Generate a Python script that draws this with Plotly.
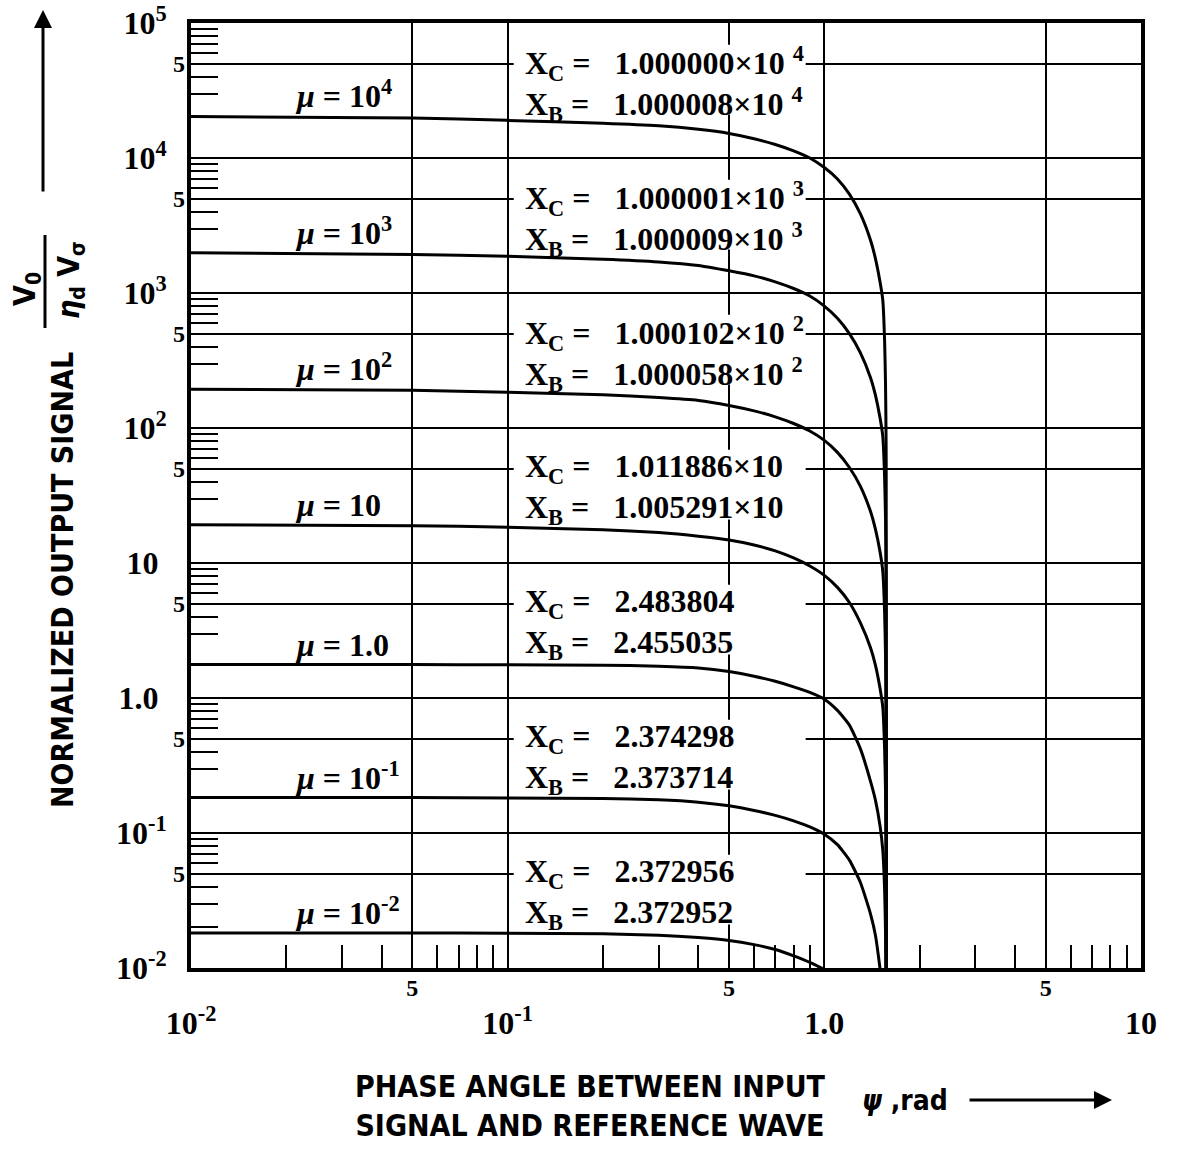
import math
import plotly.graph_objects as go

# ---------------- data ----------------
PSI = [0.01, 0.05, 0.1, 0.2, 0.3, 0.4, 0.5, 0.6, 0.7, 0.8, 0.9, 1.0, 1.1, 1.2,
       1.3, 1.4, 1.45, 1.5, 1.53, 1.55, 1.56, 1.565, 1.568, 1.5705]

V_MU_1E4 = [20300, 19800, 19000, 18100, 17300, 16300, 15200, 13900, 12600, 11300,
            10000, 8500, 7000, 5400, 3850, 2450, 1800, 1200, 880, 440, 220, 110, 55, 0.001]
V_MU_1E3 = [1990, 1930, 1870, 1780, 1700, 1600, 1460, 1340, 1210, 1080,
            950, 800, 650, 500, 360, 235, 175, 118, 86, 43, 22, 11, 5.4, 0.0005]
V_MU_1E2 = [194, 190, 184, 176, 168, 160, 147, 134, 121, 108,
            95, 81, 66, 51, 37, 24, 17.8, 12, 8.6, 4.3, 2.15, 1.08, 0.53, 0.00005]
V_MU_1E1 = [19.2, 18.9, 18.4, 17.6, 16.8, 15.8, 14.8, 13.6, 12.3, 10.9,
            9.5, 8.1, 6.6, 5.1, 3.6, 2.35, 1.75, 1.17, 0.85, 0.42, 0.21, 0.105, 0.052, 0.000005]
V_MU_1E0 = [1.77, 1.77, 1.76, 1.75, 1.72, 1.67, 1.57, 1.45, 1.33, 1.21,
            1.10, 0.98, 0.81, 0.63, 0.42, 0.24, 0.175, 0.112, 0.074, 0.038, 0.019, 0.0095, 0.0048, 0.000001]
V_MU_1EM1 = [0.183, 0.183, 0.182, 0.180, 0.176, 0.169, 0.159, 0.147, 0.135, 0.123,
             0.111, 0.098, 0.082, 0.063, 0.043, 0.025, 0.0175, 0.0098, 0.0065, 0.0033, 0.0017, 0.0008, 0.0004, 0.0000001]
V_MU_1EM2 = [0.0182, 0.0182, 0.0181, 0.0179, 0.0175, 0.0168, 0.0160, 0.0149, 0.0137, 0.0123,
             0.0110, 0.0097, 0.0081, 0.0063, 0.0043, 0.0025, 0.0018, 0.0011, 0.0007, 0.0004, 0.0002, 0.0001, 0.00005, 0.00000001]

CURVES = [V_MU_1E4, V_MU_1E3, V_MU_1E2, V_MU_1E1, V_MU_1E0, V_MU_1EM1, V_MU_1EM2]
MU_VALUES = [1e4, 1e3, 1e2, 1e1, 1.0, 1e-1, 1e-2]
MU_LABELS = ["10<sup>4</sup>", "10<sup>3</sup>", "10<sup>2</sup>", "10", "1.0",
             "10<sup>-1</sup>", "10<sup>-2</sup>"]
XC_TEXT = ["1.000000×10 <sup>4</sup>", "1.000001×10 <sup>3</sup>", "1.000102×10 <sup>2</sup>",
           "1.011886×10", "2.483804", "2.374298", "2.372956"]
XB_TEXT = ["1.000008×10 <sup>4</sup>", "1.000009×10 <sup>3</sup>", "1.000058×10 <sup>2</sup>",
           "1.005291×10", "2.455035", "2.373714", "2.372952"]

NB = "\u00a0"
X_DECADES = [0.01, 0.1, 1, 10]
X_DECADE_TEXT = ["<b>10<sup>-2</sup></b>", "<b>10<sup>-1</sup></b>", "<b>1.0</b>", "<b>10</b>"]
X_FIVES = [0.05, 0.5, 5]
X_FIVE_TEXT = ["<b>5</b>", "<b>5</b>", "<b>5</b>"]
X_MINOR = [0.02, 0.03, 0.04, 0.06, 0.07, 0.08, 0.09,
           0.2, 0.3, 0.4, 0.6, 0.7, 0.8, 0.9,
           2, 3, 4, 6, 7, 8, 9]
Y_DECADES = [1e-2, 1e-1, 1, 10, 1e2, 1e3, 1e4, 1e5]
Y_DECADE_TEXT = ["<b>10<sup>-2</sup></b>", "<b>10<sup>-1</sup></b>", "<b>1.0" + NB + "</b>",
                 "<b>10" + NB + "</b>", "<b>10<sup>2</sup></b>", "<b>10<sup>3</sup></b>",
                 "<b>10<sup>4</sup></b>", "<b>10<sup>5</sup></b>"]
Y_FIVES = [5e-2, 5e-1, 5, 50, 5e2, 5e3, 5e4]
Y_FIVE_TEXT = ["<b>5</b>"] * 7
Y_MINOR = [0.02, 0.03, 0.04, 0.06, 0.07, 0.08, 0.09,
           0.3, 0.4, 0.6, 0.7, 0.8, 0.9,
           3, 4, 6, 7, 8, 9,
           30, 40, 60, 70, 80, 90,
           300, 400, 600, 700, 800, 900,
           3000, 4000, 6000, 7000, 8000, 9000,
           30000, 40000, 60000, 70000, 80000, 90000]

SERIF = "Liberation Serif, DejaVu Serif, serif"
NARROW = "Liberation Sans Narrow, DejaVu Sans Condensed, Roboto Condensed, Liberation Sans, sans-serif"

fig = go.Figure()
for vals in CURVES:
    fig.add_trace(go.Scatter(x=PSI, y=vals, mode="lines",
                             line=dict(color="black", width=3, shape="spline", smoothing=0.5),
                             showlegend=False, hoverinfo="skip"))
# empty trace to instantiate overlay axes (used only for the small "5" labels)
fig.add_trace(go.Scatter(x=[], y=[], xaxis="x2", yaxis="y2", showlegend=False))

annotations = []
shapes = []
LBL_X = -1.677
TXT_X = math.log10(0.112)
BOX_X0, BOX_X1 = 0.1045, 0.873          # white label backgrounds (clear of the curves)
BOX_LO, BOX_HI = 2.1, 6.9               # box extent, as multiples of mu
for mu, lab, vals in zip(MU_VALUES, MU_LABELS, CURVES):
    annotations.append(dict(x=LBL_X, y=math.log10(vals[0]), xref="x", yref="y",
                            xanchor="left", yanchor="bottom", showarrow=False,
                            text="<b><i>μ</i> = " + lab + "</b>",
                            font=dict(family=SERIF, size=32, color="black")))
for mu, xc, xb in zip(MU_VALUES, XC_TEXT, XB_TEXT):
    yy = math.log10(5 * mu)
    shapes.append(dict(type="rect", xref="x", yref="y", layer="above",
                       x0=BOX_X0, x1=BOX_X1, y0=BOX_LO * mu, y1=BOX_HI * mu,
                       fillcolor="white", line=dict(width=0)))
    annotations.append(dict(x=TXT_X, y=yy, xref="x", yref="y", xanchor="left",
                            yanchor="middle", showarrow=False,
                            text="<b>X<sub>C</sub> =   " + xc + "</b>",
                            font=dict(family=SERIF, size=32, color="black")))
    annotations.append(dict(x=TXT_X, y=yy, xref="x", yref="y", xanchor="left",
                            yanchor="middle", yshift=-41, showarrow=False,
                            text="<b>X<sub>B</sub> =   " + xb + "</b>",
                            font=dict(family=SERIF, size=32, color="black")))

L, R, T, B = 191, 40, 23, 182
PW = 1181 - L - R
PH = 1150 - T - B
def px(xp):
    return (xp - L) / PW
def py(yp):
    return (1150 - B - yp) / PH

def paper_text(x, y, text, size, angle=0, xanchor="center"):
    return dict(x=px(x), y=py(y), xref="paper", yref="paper", textangle=angle,
                xanchor=xanchor, yanchor="middle", showarrow=False, text=text,
                font=dict(family=NARROW, size=size, color="black"))

annotations += [
    paper_text(62, 580, "<b>NORMALIZED OUTPUT SIGNAL</b>", 30, -90),
    paper_text(27, 289, "<b>V<sub>0</sub></b>", 30, -90),
    paper_text(70, 280, "<b><i>η</i><sub>d</sub> V<sub>σ</sub></b>", 30, -90),
    paper_text(590, 1106, "<b>PHASE ANGLE BETWEEN INPUT<br>SIGNAL AND REFERENCE WAVE</b>", 30),
    paper_text(860, 1100, "<b><i>ψ</i> ,rad</b>", 28, 0, "left"),
    dict(x=px(43), y=py(10), xref="paper", yref="paper", ax=0, ay=183, axref="pixel",
         ayref="pixel", showarrow=True, arrowhead=2, arrowsize=1.2, arrowwidth=3,
         arrowcolor="black", text=""),
    dict(x=px(1112), y=py(1100), xref="paper", yref="paper", ax=-144, ay=0, axref="pixel",
         ayref="pixel", showarrow=True, arrowhead=2, arrowsize=1.2, arrowwidth=3,
         arrowcolor="black", text=""),
]

shapes.append(dict(type="line", xref="paper", yref="paper", x0=px(45), x1=px(45),
                   y0=py(235), y1=py(328), line=dict(color="black", width=3)))

grid = dict(showgrid=True, gridcolor="black", gridwidth=2)
fig.update_layout(
    width=1181, height=1150,
    margin=dict(l=L, r=R, t=T, b=B),
    paper_bgcolor="white", plot_bgcolor="white",
    showlegend=False,
    xaxis=dict(type="log", range=[-2, 1], tickvals=X_DECADES + X_FIVES,
               ticktext=X_DECADE_TEXT + [""] * len(X_FIVES),
               ticks="", ticklabelstandoff=24, automargin=False, ticklabeloverflow="allow",
               tickfont=dict(family=SERIF, size=32, color="black"),
               showline=True, linewidth=4, linecolor="black", mirror=True, zeroline=False,
               minor=dict(tickvals=X_MINOR, ticks="inside", ticklen=23, tickwidth=2,
                          tickcolor="black", showgrid=False),
               **grid),
    xaxis2=dict(type="log", range=[-2, 1], overlaying="x", anchor="y", side="bottom",
                tickvals=X_FIVES, ticktext=X_FIVE_TEXT, ticks="", ticklabelstandoff=3,
                automargin=False, ticklabeloverflow="allow",
                tickfont=dict(family=SERIF, size=24, color="black"),
                showline=False, zeroline=False, showgrid=False),
    yaxis=dict(type="log", range=[-2, 5], tickvals=Y_DECADES + Y_FIVES,
               ticktext=Y_DECADE_TEXT + [""] * len(Y_FIVES),
               ticks="", ticklabelstandoff=14, automargin=False, ticklabeloverflow="allow",
               tickfont=dict(family=SERIF, size=32, color="black"),
               showline=True, linewidth=4, linecolor="black", mirror=True, zeroline=False,
               minor=dict(tickvals=Y_MINOR, ticks="inside", ticklen=27, tickwidth=2,
                          tickcolor="black", showgrid=False),
               **grid),
    yaxis2=dict(type="log", range=[-2, 5], overlaying="y", anchor="x", side="left",
                tickvals=Y_FIVES, ticktext=Y_FIVE_TEXT, ticks="", ticklabelstandoff=5,
                automargin=False, ticklabeloverflow="allow",
                tickfont=dict(family=SERIF, size=24, color="black"),
                showline=False, zeroline=False, showgrid=False),
    annotations=annotations,
    shapes=shapes,
)

fig.write_html("out.html")
